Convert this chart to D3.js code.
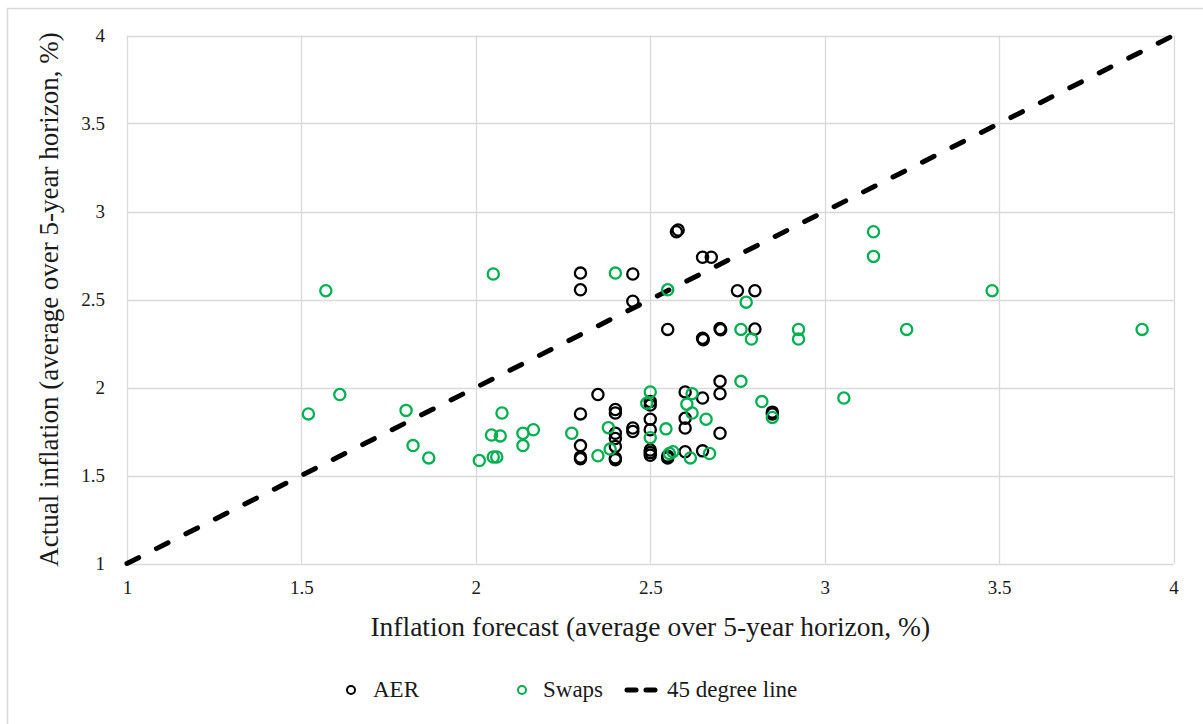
<!DOCTYPE html>
<html>
<head>
<meta charset="utf-8">
<script src="https://cdn.jsdelivr.net/npm/d3@7"></script>
<style>
  body { margin: 0; background: #fff; }
  svg { display: block; }
  text { font-family: "Liberation Serif", "Times New Roman", serif; fill: #1a1a1a; }
</style>
</head>
<body>
<svg id="chart" width="1203" height="724"></svg>
<script>
// AER forecasts vs outturn [forecast, actual]
const aer = [
  [2.58, 2.895], [2.575, 2.885], [2.65, 2.74], [2.675, 2.74],
  [2.30, 2.65], [2.30, 2.555], [2.45, 2.645], [2.45, 2.49],
  [2.75, 2.55], [2.80, 2.55], [2.55, 2.33], [2.65, 2.28], [2.652, 2.272],
  [2.70, 2.335], [2.702, 2.328], [2.80, 2.332],
  [2.70, 2.035], [2.70, 1.965], [2.65, 1.94], [2.35, 1.96],
  [2.30, 1.85], [2.30, 1.67], [2.30, 1.605], [2.30, 1.595],
  [2.40, 1.875], [2.40, 1.855], [2.40, 1.74], [2.40, 1.71],
  [2.40, 1.665], [2.40, 1.60], [2.40, 1.59],
  [2.45, 1.77], [2.45, 1.75],
  [2.50, 1.92], [2.50, 1.90], [2.50, 1.82], [2.50, 1.76],
  [2.50, 1.645], [2.50, 1.63], [2.50, 1.615],
  [2.55, 1.61], [2.55, 1.60],
  [2.60, 1.975], [2.60, 1.825], [2.60, 1.77], [2.60, 1.635],
  [2.65, 1.64], [2.70, 1.74], [2.85, 1.86], [2.85, 1.85]
];

// market-implied (swaps) forecasts vs outturn
const swaps = [
  [1.52, 1.85], [1.57, 2.55], [1.61, 1.96], [1.80, 1.87], [1.82, 1.67],
  [1.865, 1.60], [2.01, 1.585], [2.045, 1.73], [2.05, 2.645], [2.05, 1.605],
  [2.06, 1.605], [2.07, 1.725], [2.075, 1.855], [2.135, 1.74], [2.135, 1.67],
  [2.165, 1.76], [2.275, 1.74], [2.35, 1.612], [2.38, 1.772], [2.385, 1.65],
  [2.40, 2.65], [2.49, 1.91], [2.50, 1.975], [2.50, 1.715], [2.545, 1.765],
  [2.55, 2.555], [2.555, 1.625], [2.565, 1.635], [2.605, 1.905], [2.62, 1.965],
  [2.62, 1.855], [2.615, 1.60], [2.66, 1.82], [2.67, 1.625], [2.76, 2.035],
  [2.775, 2.485], [2.76, 2.33], [2.79, 2.275], [2.82, 1.92], [2.85, 1.83],
  [2.925, 2.33], [2.925, 2.275], [3.055, 1.94], [3.14, 2.885], [3.14, 2.745],
  [3.235, 2.33], [3.48, 2.55], [3.91, 2.33]
];

const line45 = [[1, 1], [4, 4]];
const xTicks = [1, 1.5, 2, 2.5, 3, 3.5, 4];
const yTicks = [1, 1.5, 2, 2.5, 3, 3.5, 4];

const svg = d3.select("#chart");
const pLeft = 127, pRight = 1173.5, pTop = 35.5, pBottom = 563.5;

// outer chart frame
svg.append("rect")
  .attr("x", 7.5).attr("y", 8.5)
  .attr("width", 1230).attr("height", 740)
  .attr("fill", "none").attr("stroke", "#d9d9d9").attr("stroke-width", 1.5);

const x = d3.scaleLinear().domain([1, 4]).range([pLeft, pRight]);
const y = d3.scaleLinear().domain([1, 4]).range([pBottom, pTop]);

// grid
svg.append("g")
  .selectAll("line")
  .data(xTicks)
  .enter()
  .append("line")
  .attr("x1", d => Math.round(x(d)) + 0.5).attr("x2", d => Math.round(x(d)) + 0.5)
  .attr("y1", pTop).attr("y2", pBottom)
  .attr("stroke", "#d9d9d9").attr("stroke-width", 1.3);

svg.append("g")
  .selectAll("line")
  .data(yTicks)
  .enter()
  .append("line")
  .attr("x1", pLeft).attr("x2", pRight)
  .attr("y1", d => Math.round(y(d)) + 0.5).attr("y2", d => Math.round(y(d)) + 0.5)
  .attr("stroke", "#d9d9d9").attr("stroke-width", 1.3);

// axes labels only (lines are the grid)
const xAxis = svg.append("g")
  .attr("transform", "translate(0," + (pBottom + 14) + ")")
  .call(d3.axisBottom(x).tickValues(xTicks).tickFormat(d3.format("")).tickSize(0));
xAxis.select(".domain").remove();
xAxis.selectAll("text")
  .style("font-size", "19px")
  .style("font-family", "Liberation Serif")
  .attr("fill", "#1a1a1a");

const yAxis = svg.append("g")
  .attr("transform", "translate(" + (pLeft - 19) + ",0)")
  .call(d3.axisLeft(y).tickValues(yTicks).tickFormat(d3.format("")).tickSize(0));
yAxis.select(".domain").remove();
yAxis.selectAll("text")
  .style("font-size", "19px")
  .style("font-family", "Liberation Serif")
  .attr("fill", "#1a1a1a");

// 45 degree line
svg.append("path")
  .datum(line45)
  .attr("d", d3.line().x(d => x(d[0])).y(d => y(d[1])))
  .attr("fill", "none")
  .attr("stroke", "#000")
  .attr("stroke-width", 5)
  .attr("stroke-linecap", "round")
  .attr("stroke-dasharray", "13,20");

// markers
svg.append("g")
  .selectAll("circle")
  .data(aer)
  .enter()
  .append("circle")
  .attr("cx", d => x(d[0]))
  .attr("cy", d => y(d[1]))
  .attr("r", 5.6)
  .attr("fill", "none")
  .attr("stroke", "#000")
  .attr("stroke-width", 2.3);

svg.append("g")
  .selectAll("circle")
  .data(swaps)
  .enter()
  .append("circle")
  .attr("cx", d => x(d[0]))
  .attr("cy", d => y(d[1]))
  .attr("r", 5.6)
  .attr("fill", "none")
  .attr("stroke", "#00b050")
  .attr("stroke-width", 2.3);

// axis titles
svg.append("text")
  .attr("x", (pLeft + pRight) / 2)
  .attr("y", 636)
  .attr("text-anchor", "middle")
  .style("font-size", "27.5px")
  .text("Inflation forecast (average over 5-year horizon, %)");

svg.append("text")
  .attr("transform", "translate(58," + (pTop + pBottom) / 2 + ")rotate(-90)")
  .attr("text-anchor", "middle")
  .style("font-size", "27px")
  .text("Actual inflation (average over 5-year horizon, %)");

// legend
const legend = svg.append("g").attr("transform", "translate(0,690)");
legend.append("circle").attr("cx", 351).attr("cy", 0).attr("r", 4)
  .attr("fill", "none").attr("stroke", "#000").attr("stroke-width", 2);
legend.append("text").attr("x", 373).attr("y", 7).style("font-size", "23px").text("AER");
legend.append("circle").attr("cx", 522).attr("cy", 0).attr("r", 4)
  .attr("fill", "none").attr("stroke", "#00b050").attr("stroke-width", 2);
legend.append("text").attr("x", 543).attr("y", 7).style("font-size", "23px").text("Swaps");
legend.append("line").attr("x1", 627).attr("x2", 655).attr("y1", 0).attr("y2", 0)
  .attr("stroke", "#000").attr("stroke-width", 5).attr("stroke-linecap", "round")
  .attr("stroke-dasharray", "9,10");
legend.append("text").attr("x", 667).attr("y", 7).style("font-size", "23px").text("45 degree line");
</script>
</body>
</html>
